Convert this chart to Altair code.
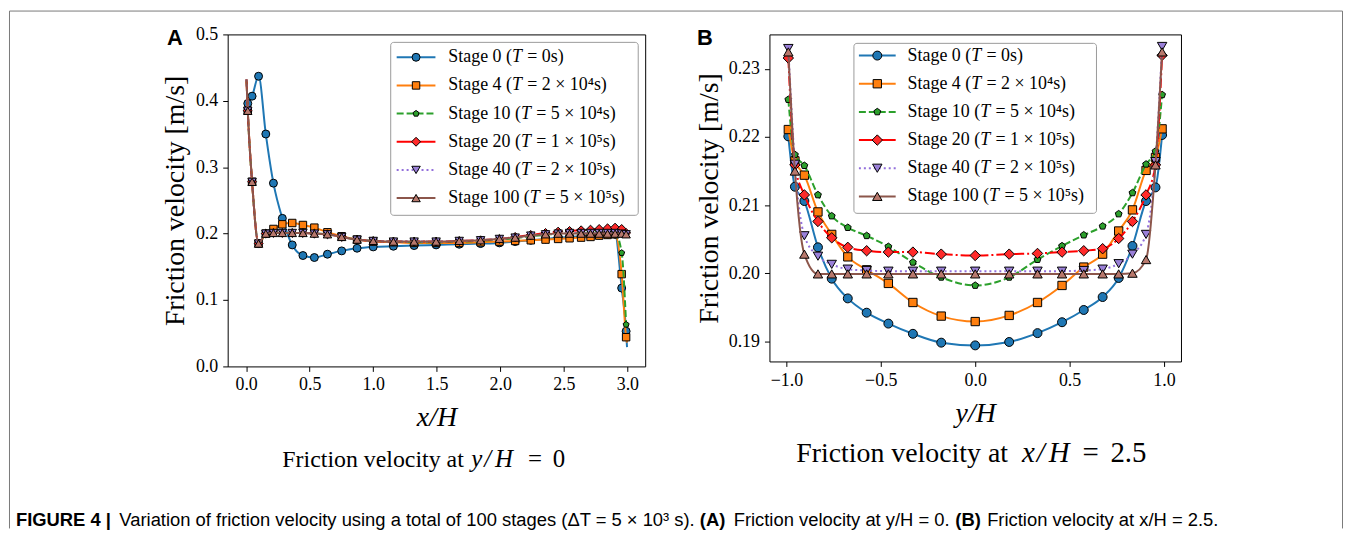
import altair as alt
import pandas as pd

# ---------------- data ----------------
STAGE_NUMS = ["0", "4", "10", "20", "40", "100"]
STAGE_TIMES = ["0s", "2 × 10⁴s", "5 × 10⁴s", "1 × 10⁵s", "2 × 10⁵s", "5 × 10⁵s"]

# Panel A: friction velocity along x/H at y/H = 0
XA = [0.013, 0.047, 0.098, 0.155, 0.215, 0.285, 0.363, 0.447, 0.537, 0.64,
      0.752, 0.873, 1.0, 1.159, 1.322, 1.495, 1.677, 1.845, 1.993, 2.117,
      2.24, 2.356, 2.455, 2.545, 2.636, 2.71, 2.778, 2.844, 2.903, 2.955, 2.99]
A_S0 = [0.396, 0.407, 0.437, 0.350, 0.276, 0.223, 0.183, 0.167, 0.164, 0.169,
        0.174, 0.178, 0.180, 0.181, 0.182, 0.183, 0.184, 0.185, 0.186, 0.188,
        0.190, 0.192, 0.194, 0.195, 0.196, 0.197, 0.198, 0.199, 0.199, 0.118, 0.053]
A_S4 = [0.385, 0.278, 0.185, 0.200, 0.207, 0.214, 0.216, 0.213, 0.209, 0.202,
        0.196, 0.191, 0.188, 0.187, 0.186, 0.186, 0.186, 0.187, 0.188, 0.189,
        0.190, 0.191, 0.192, 0.193, 0.194, 0.195, 0.197, 0.198, 0.199, 0.139, 0.044]
A_S10 = [0.385, 0.278, 0.185, 0.200, 0.201, 0.201, 0.201, 0.201, 0.200, 0.199,
         0.195, 0.191, 0.189, 0.188, 0.187, 0.187, 0.188, 0.189, 0.191, 0.193,
         0.196, 0.198, 0.200, 0.201, 0.201, 0.202, 0.202, 0.202, 0.201, 0.171, 0.063]
A_S20 = [0.385, 0.278, 0.185, 0.200, 0.201, 0.201, 0.201, 0.201, 0.200, 0.199,
         0.195, 0.191, 0.189, 0.188, 0.188, 0.188, 0.189, 0.190, 0.192, 0.195,
         0.198, 0.201, 0.203, 0.204, 0.205, 0.206, 0.207, 0.208, 0.209, 0.207, 0.201]
A_S40 = [0.385, 0.278, 0.185, 0.200, 0.201, 0.201, 0.201, 0.201, 0.200, 0.199,
         0.195, 0.191, 0.189, 0.188, 0.188, 0.188, 0.189, 0.190, 0.192, 0.194,
         0.197, 0.199, 0.200, 0.201, 0.201, 0.201, 0.201, 0.201, 0.201, 0.200, 0.199]
A_S100 = [0.385, 0.278, 0.185, 0.200, 0.201, 0.201, 0.201, 0.201, 0.200, 0.199,
          0.195, 0.191, 0.189, 0.188, 0.188, 0.188, 0.189, 0.190, 0.192, 0.194,
          0.197, 0.199, 0.200, 0.200, 0.200, 0.200, 0.200, 0.200, 0.200, 0.200, 0.199]
# extra line-only vertices (full-resolution curve ends)
A_LINE_EXTRA = [
    [(2.997, 0.029)],
    [(0.003, 0.432), (2.997, 0.036)],
    [(0.003, 0.432)],
    [(0.003, 0.432)],
    [(0.003, 0.432)],
    [(0.003, 0.432)],
]

# Panel B: friction velocity along y/H at x/H = 2.5
XB = [-0.99, -0.955, -0.905, -0.833, -0.76, -0.675, -0.575, -0.46, -0.33, -0.18,
      0.0, 0.18, 0.33, 0.46, 0.575, 0.675, 0.76, 0.833, 0.905, 0.955, 0.99]
B_S0 = [0.2201, 0.2127, 0.2106, 0.2038, 0.1992, 0.1963, 0.1942, 0.1926, 0.1911, 0.1898,
        0.1894, 0.1899, 0.1912, 0.1928, 0.1946, 0.1965, 0.1993, 0.2040, 0.2106, 0.2126, 0.2203]
B_S4 = [0.2211, 0.2165, 0.2144, 0.2090, 0.2057, 0.2024, 0.2005, 0.1985, 0.1957, 0.1937,
        0.1929, 0.1938, 0.1957, 0.1982, 0.2009, 0.2028, 0.2062, 0.2093, 0.2151, 0.2170, 0.2212]
B_S10 = [0.2255, 0.2174, 0.2158, 0.2115, 0.2084, 0.2067, 0.2055, 0.2039, 0.2016, 0.1994,
         0.1982, 0.1994, 0.2020, 0.2040, 0.2056, 0.2069, 0.2087, 0.2118, 0.2160, 0.2179, 0.2262]
B_S20 = [0.2316, 0.2159, 0.2115, 0.2076, 0.2052, 0.2038, 0.2033, 0.2031, 0.2031, 0.2028,
         0.2026, 0.2028, 0.2029, 0.2031, 0.2033, 0.2036, 0.2051, 0.2076, 0.2115, 0.2159, 0.2320]
B_S40 = [0.2330, 0.2160, 0.2055, 0.2025, 0.2013, 0.2006, 0.2004, 0.2003, 0.2003, 0.2003,
         0.2003, 0.2003, 0.2003, 0.2003, 0.2004, 0.2006, 0.2014, 0.2028, 0.2057, 0.2164, 0.2333]
B_S100 = [0.2325, 0.2150, 0.2028, 0.1999, 0.1999, 0.1999, 0.1999, 0.1999, 0.1999, 0.1999,
          0.1999, 0.1999, 0.1999, 0.1999, 0.1999, 0.1999, 0.1999, 0.2000, 0.2020, 0.2159, 0.2325]
B_LINE_EXTRA = [[], [], [], [], [], []]

A_TICKS_X = [0.0, 0.5, 1.0, 1.5, 2.0, 2.5, 3.0]
A_TICKS_Y = [0.0, 0.1, 0.2, 0.3, 0.4, 0.5]
B_TICKS_X = [-1.0, -0.5, 0.0, 0.5, 1.0]
B_TICKS_Y = [0.19, 0.20, 0.21, 0.22, 0.23]

# ---------------- styles ----------------
SERIF = "Liberation Serif"
SANS = "Liberation Sans"
LINE_COLORS = ["#1f77b4", "#ff7f0e", "#2ca02c", "#ff0000", "#9370db", "#8c564b"]
MARKER_FILLS = ["#1f77b4", "#ff7f0e", "#2ca02c", "#ff2a2a", "#9a80d8", "#b8786c"]
DASHES = [None, None, [7, 3], [10, 3, 2, 3], [2, 3], None]
LEGEND_DASHES = [None, None, [7, 3], [17, 5], [2, 3], None]
PENTAGON = "M0,-1L0.951,-0.309L0.588,0.809L-0.588,0.809L-0.951,-0.309Z"
SHAPES = ["circle", "square", PENTAGON, "diamond", "triangle-down", "triangle-up"]
SIZES_A = [64, 56, 40, 81, 72, 72]
SIZES_B = [81, 70, 52, 110, 90, 90]

# Times-metric advance widths (per em) used only to place the italic "T" in legend labels
TIMES_W = {"S": 0.556, "t": 0.278, "a": 0.444, "g": 0.5, "e": 0.444, " ": 0.25,
           "(": 0.333, "0": 0.5, "1": 0.5, "2": 0.5, "4": 0.5}
T_ITALIC_W = 0.556


def axis(values, fmt, title, italic, label_pad, title_pad):
    kw = dict(values=values, format=fmt, title=title, domain=False, grid=False,
              ticks=True, tickColor="black", tickWidth=1, tickSize=5,
              labelFont=SERIF, labelFontSize=18, labelColor="black",
              labelPadding=label_pad, labelFlush=False, labelOverlap=False,
              titleFont=SERIF, titleFontSize=28, titleFontWeight="normal",
              titleColor="black", titlePadding=title_pad)
    if italic:
        kw["titleFontStyle"] = "italic"
    return alt.Axis(**kw)


def series_layers(xs, ys_list, extras, X, Y, sizes):
    layers = []
    for i in range(6):
        pts = pd.DataFrame({"x": xs, "y": ys_list[i]})
        line_df = pts
        if extras[i]:
            line_df = pd.concat([pts, pd.DataFrame(extras[i], columns=["x", "y"])]).sort_values("x")
        lk = dict(color=LINE_COLORS[i], strokeWidth=2, interpolate="monotone")
        if DASHES[i]:
            lk["strokeDash"] = DASHES[i]
        layers.append(alt.Chart(line_df).mark_line(**lk).encode(x=X, y=Y))
        layers.append(
            alt.Chart(pts).mark_point(shape=SHAPES[i], filled=True, fill=MARKER_FILLS[i],
                                      stroke="black", strokeWidth=1, size=sizes[i],
                                      opacity=1).encode(x=X, y=Y))
    return layers


ONE = pd.DataFrame({"k": [0]})


def text_layer(text, x, y, size, font=SERIF, weight="normal", style="normal",
               align="left", baseline="alphabetic"):
    return alt.Chart(ONE).mark_text(text=text, font=font, fontSize=size, fontWeight=weight,
                                    fontStyle=style, align=align, baseline=baseline,
                                    color="black").encode(x=alt.value(x), y=alt.value(y))


def legend_layers(box, row0, dy, lx0, lx1, tx, sizes, fs=18):
    layers = [alt.Chart(ONE).mark_rect(fill="white", stroke="#9a9a9a", strokeWidth=1,
                                       cornerRadius=3).encode(
        x=alt.value(box[0]), x2=alt.value(box[1]), y=alt.value(box[2]), y2=alt.value(box[3]))]
    for i in range(6):
        yy = row0 + i * dy
        rk = dict(color=LINE_COLORS[i], strokeWidth=2)
        if LEGEND_DASHES[i]:
            rk["strokeDash"] = LEGEND_DASHES[i]
        layers.append(alt.Chart(ONE).mark_rule(**rk).encode(
            x=alt.value(lx0), x2=alt.value(lx1), y=alt.value(yy)))
        layers.append(alt.Chart(ONE).mark_point(shape=SHAPES[i], filled=True, fill=MARKER_FILLS[i],
                                                stroke="black", strokeWidth=1, size=sizes[i],
                                                opacity=1).encode(
            x=alt.value((lx0 + lx1) / 2), y=alt.value(yy)))
        head = "Stage " + STAGE_NUMS[i] + " ("
        w_head = sum(TIMES_W[c] for c in head) * fs
        x_t = tx + w_head
        x_rest = x_t + (T_ITALIC_W + 0.30) * fs
        layers.append(text_layer(head, tx, yy, fs, baseline="middle"))
        layers.append(text_layer("T", x_t, yy, fs, style="italic", baseline="middle"))
        layers.append(text_layer("= " + STAGE_TIMES[i] + ")", x_rest, yy, fs, baseline="middle"))
    return layers


def rule_layer(x, y, x2=None, y2=None):
    enc = dict(x=alt.value(x), y=alt.value(y))
    if x2 is not None:
        enc["x2"] = alt.value(x2)
    if y2 is not None:
        enc["y2"] = alt.value(y2)
    return alt.Chart(ONE).mark_rule(color="#7a7a7a", strokeWidth=1).encode(**enc)


# ---------------- panel A ----------------
XA_enc = alt.X("x:Q", scale=alt.Scale(domain=[-0.145, 3.14], nice=False, zero=False),
               axis=axis(A_TICKS_X, ".1f", "x/H", True, 4, 10))
YA_enc = alt.Y("y:Q", scale=alt.Scale(domain=[0.0, 0.5], nice=False, zero=False),
               axis=axis(A_TICKS_Y, ".1f", "Friction velocity [m/s]", False, 5, 6))

layersA = series_layers(XA, [A_S0, A_S4, A_S10, A_S20, A_S40, A_S100], A_LINE_EXTRA,
                        XA_enc, YA_enc, SIZES_A)
layersA += legend_layers((164, 413, 8, 182), 23, 28.33, 170, 209, 222, SIZES_A)
# figure frame (open at the bottom)
layersA += [rule_layer(-219.5, -23.5, x2=1121.5), rule_layer(-219.5, -23.5, y2=497),
            rule_layer(1121.5, -23.5, y2=497)]
layersA += [text_layer("A", -61, 11, 22, font=SANS, weight="bold")]
# sub-caption A
SUB_A_Y = 435
layersA += [text_layer("Friction velocity at", 55, SUB_A_Y, 24),
            text_layer("y", 245, SUB_A_Y, 25, style="italic"),
            text_layer("/", 258, SUB_A_Y, 25, style="italic"),
            text_layer("H", 269, SUB_A_Y, 25, style="italic"),
            text_layer("=", 302, SUB_A_Y, 25),
            text_layer("0", 327, SUB_A_Y, 25)]
# figure caption
CAP_Y = 495
CAP_FS = 18.5
layersA += [text_layer("FIGURE 4 |", -213, CAP_Y, CAP_FS, font=SANS, weight="bold"),
            text_layer("Variation of friction velocity using a total of 100 stages (ΔT = 5 × 10³ s).",
                       -109, CAP_Y, CAP_FS, font=SANS),
            text_layer("(A)", 475, CAP_Y, CAP_FS, font=SANS, weight="bold"),
            text_layer("Friction velocity at y/H = 0.", 509, CAP_Y, CAP_FS, font=SANS),
            text_layer("(B)", 732, CAP_Y, CAP_FS, font=SANS, weight="bold"),
            text_layer("Friction velocity at x/H = 2.5.", 764, CAP_Y, CAP_FS, font=SANS)]

panelA = alt.layer(*layersA).properties(width=420, height=334)

# ---------------- panel B ----------------
XB_enc = alt.X("x:Q", scale=alt.Scale(domain=[-1.09, 1.09], nice=False, zero=False),
               axis=axis(B_TICKS_X, ".1f", "y/H", True, 5, 10))
YB_enc = alt.Y("y:Q", scale=alt.Scale(domain=[0.18704, 0.23507], nice=False, zero=False),
               axis=axis(B_TICKS_Y, ".2f", "Friction velocity [m/s]", False, 5, 5))

layersB = series_layers(XB, [B_S0, B_S4, B_S10, B_S20, B_S40, B_S100], B_LINE_EXTRA,
                        XB_enc, YB_enc, SIZES_B)
layersB += legend_layers((85, 329, 9, 180), 21.3, 28.33, 90, 127, 139, SIZES_B)
layersB += [text_layer("B", -73, 11, 22, font=SANS, weight="bold")]
SUB_B_Y = 430
layersB += [text_layer("Friction velocity at", 27, SUB_B_Y, 28),
            text_layer("x", 254, SUB_B_Y, 29, style="italic"),
            text_layer("/", 269, SUB_B_Y, 29, style="italic"),
            text_layer("H", 281, SUB_B_Y, 29, style="italic"),
            text_layer("=", 315, SUB_B_Y, 29),
            text_layer("2.5", 343, SUB_B_Y, 29)]

panelB = alt.layer(*layersB).properties(width=414, height=329)

chart = alt.hconcat(panelA, panelB, spacing=125, bounds="flush").properties(
    padding=0, background="white"
).configure_view(stroke="black", strokeWidth=1)

chart.save("out.html", embed_options={"renderer": "svg", "actions": False})
